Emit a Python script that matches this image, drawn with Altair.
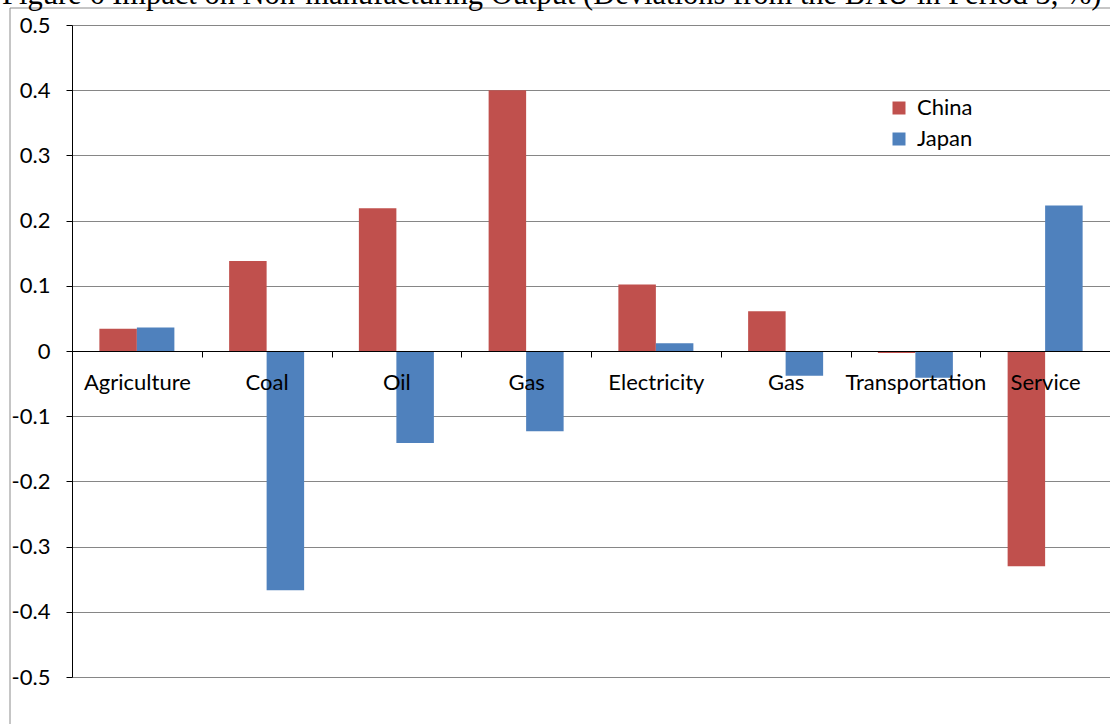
import altair as alt
import pandas as pd

# ---- data ----
categories = ["Agriculture", "Coal", "Oil", "Gas", "Electricity", "Gas", "Transportation", "Service"]
series = ["China", "Japan"]
china = [0.034, 0.138, 0.219, 0.400, 0.102, 0.061, -0.003, -0.330]
japan = [0.036, -0.367, -0.141, -0.123, 0.012, -0.038, -0.041, 0.223]
y_ticks = [0.5, 0.4, 0.3, 0.2, 0.1, 0, -0.1, -0.2, -0.3, -0.4, -0.5]
title_text = "Figure 6 Impact on Non-manufacturing Output (Deviations from the BAU in Period 3, %)"
colors = ["#C0504D", "#4F81BD"]

rows = []
for i in range(len(categories)):
    rows.append({"key": i, "country": series[0], "value": china[i]})
    rows.append({"key": i, "country": series[1], "value": japan[i]})
df = pd.DataFrame(rows)

label_expr = "[" + ",".join("'" + c + "'" for c in categories) + "][datum.value]"
y_label_expr = ("datum.value == 0 ? '0' : (datum.value < 0 ? '-' + format(-datum.value, '.1f') "
                ": format(datum.value, '.1f'))")

W, H = 1038, 652
FONT = "Lato"
FS = 22

bars = alt.Chart(df).mark_bar().encode(
    x=alt.X("key:O",
            scale=alt.Scale(paddingInner=0, paddingOuter=0),
            axis=alt.Axis(orient="bottom", offset=-H / 2, title=None, labelAngle=0,
                          tickBand="extent", domainColor="black", tickColor="black",
                          tickSize=6, labelPadding=15, labelFont=FONT, labelFontSize=FS,
                          labelColor="black", labelExpr=label_expr, labelOverlap=False,
                          grid=False, zindex=1)),
    xOffset=alt.XOffset("country:N", scale=alt.Scale(domain=series, paddingOuter=0.73, paddingInner=0)),
    y=alt.Y("value:Q",
            scale=alt.Scale(domain=[-0.5, 0.5], nice=False, zero=False),
            axis=alt.Axis(values=y_ticks, labelExpr=y_label_expr, title=None, grid=True,
                          gridColor="#868686", domainColor="black", tickColor="black",
                          tickSize=6, labelPadding=16, labelFont=FONT, labelFontSize=FS,
                          labelColor="black", zindex=0)),
    color=alt.Color("country:N",
                    scale=alt.Scale(domain=series, range=colors),
                    legend=alt.Legend(title=None, orient="none", legendX=816, legendY=72,
                                      symbolType="square", symbolSize=169, symbolStrokeWidth=0,
                                      labelFont=FONT, labelFontSize=FS, labelColor="black",
                                      rowPadding=9, labelOffset=7, padding=0)),
)

frame = alt.Chart(pd.DataFrame({"a": [0]})).mark_rect(
    fillOpacity=0, stroke="#8c8c8c", strokeWidth=1
).encode(x=alt.value(-62), x2=alt.value(3000), y=alt.value(-17), y2=alt.value(3000))

title = alt.Chart(pd.DataFrame({"t": [title_text]})).mark_text(
    align="left", baseline="alphabetic", font="Liberation Serif", fontSize=30.5, color="black"
).encode(x=alt.value(-70), y=alt.value(-21), text="t:N")

chart = alt.layer(frame, bars, title).properties(
    width=W, height=H,
    autosize=alt.AutoSizeParams(type="none"),
    padding={"left": 72, "top": 25, "right": 0, "bottom": 47},
).configure_view(strokeWidth=0)

chart.save("out.html", embed_options={"renderer": "svg", "actions": False})
